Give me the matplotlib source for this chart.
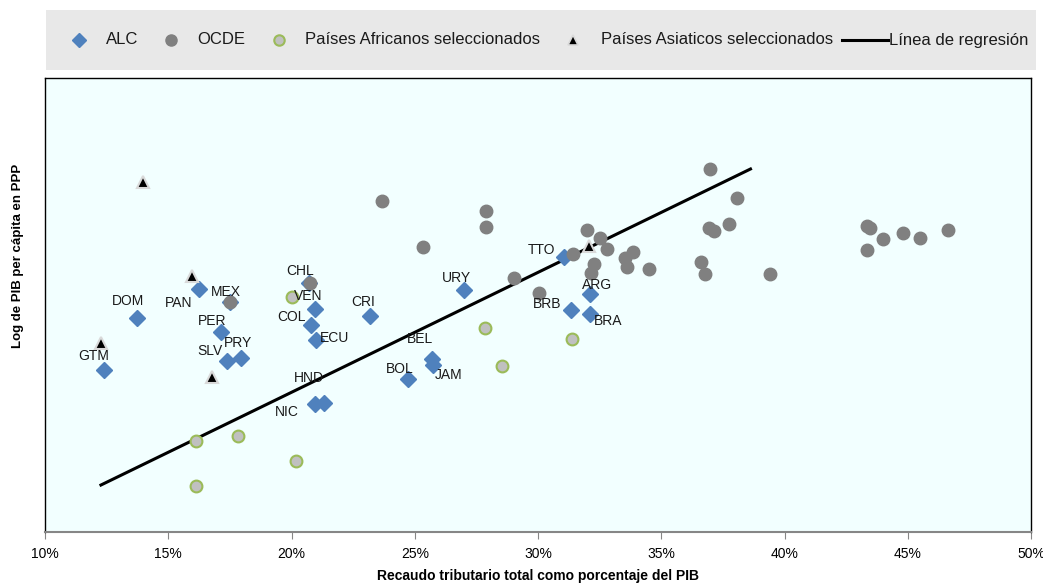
import matplotlib
matplotlib.use("Agg")
import matplotlib.pyplot as plt
from matplotlib.lines import Line2D
from matplotlib.patches import Rectangle
from matplotlib.ticker import FuncFormatter

plt.rcParams['font.family'] = ['Liberation Sans', 'DejaVu Sans']

# ALC (América Latina y el Caribe)
alc_codes = ["GTM", "DOM", "PAN", "MEX", "PER", "SLV", "PRY", "CHL", "VEN", "COL", "ECU",
             "CRI", "URY", "BEL", "JAM", "BOL", "HND", "NIC", "TTO", "ARG", "BRB", "BRA"]
alc_tax = [12.39, 13.73, 16.24, 17.50, 17.13, 17.38, 17.94, 20.70, 20.94, 20.78, 20.98,
           23.17, 26.98, 25.68, 25.76, 24.71, 21.31, 20.94, 31.07, 32.09, 31.32, 32.09]
alc_gdp = [8.05, 8.57, 8.87, 8.74, 8.43, 8.14, 8.17, 8.93, 8.66, 8.50, 8.35,
           8.59, 8.86, 8.16, 8.10, 7.96, 7.71, 7.70, 9.19, 8.82, 8.65, 8.61]

# OCDE
ocde_tax = [17.50, 20.74, 23.66, 25.32, 27.91, 27.91, 29.01, 30.06, 31.97, 32.53, 32.78,
            31.40, 32.29, 32.13, 33.51, 33.87, 33.63, 34.52, 36.99, 38.09, 36.95, 37.15,
            37.76, 36.63, 36.79, 39.42, 43.35, 43.48, 44.00, 44.81, 45.50, 46.64, 43.35]
ocde_gdp = [8.74, 8.93, 9.76, 9.29, 9.66, 9.49, 8.98, 8.83, 9.46, 9.38, 9.27,
            9.22, 9.12, 9.03, 9.18, 9.24, 9.09, 9.07, 10.08, 9.79, 9.48, 9.45,
            9.52, 9.14, 9.02, 9.02, 9.50, 9.48, 9.37, 9.43, 9.38, 9.46, 9.26]

# Países Africanos seleccionados
afr_tax = [20.01, 27.87, 28.52, 31.36, 16.12, 17.82, 20.17, 16.12]
afr_gdp = [8.79, 8.47, 8.09, 8.36, 7.33, 7.38, 7.13, 6.88]

# Países Asiaticos seleccionados
asia_tax = [13.97, 15.96, 12.27, 16.77, 32.05]
asia_gdp = [9.95, 9.00, 8.32, 7.98, 9.30]

# Línea de regresión (extremos)
reg_tax = [12.27, 38.62]
reg_gdp = [6.885, 10.08]

legend_labels = ["ALC", "OCDE", "Países Africanos seleccionados",
                 "Países Asiaticos seleccionados", "Línea de regresión"]

# label offsets in pixels (dx, dy)
label_offsets = {
    "GTM": (-10, 14), "DOM": (-9, 17), "PAN": (-20, -14), "MEX": (-4, 10),
    "PER": (-9, 11), "SLV": (-17, 10), "PRY": (-3, 15), "CHL": (-9, 12),
    "VEN": (-6, 13), "COL": (-19, 8), "ECU": (19, 2), "CRI": (-6, 14),
    "URY": (-7, 12), "BEL": (-12, 20), "JAM": (15, -10), "BOL": (-8, 10),
    "HND": (-15, 25), "NIC": (-28, -8), "TTO": (-23, 7), "ARG": (8, 9),
    "BRB": (-23, 6), "BRA": (19, -7),
}

blue = "#4F81BD"
gray = "#808080"
W, H = 1043, 585

fig = plt.figure(figsize=(10.43, 5.85), dpi=100)
ax = fig.add_axes([45 / W, 1 - 532 / H, 986 / W, 454 / H])
ax.set_facecolor("#F2FFFF")

ax.plot(reg_tax, reg_gdp, color="black", lw=2.2, zorder=1)
ax.plot(alc_tax, alc_gdp, "D", ms=8.5, color=blue, mec=blue, ls="none", zorder=2)
ax.plot(ocde_tax, ocde_gdp, "o", ms=9, color=gray, mec=gray, ls="none", zorder=3)
ax.plot(afr_tax, afr_gdp, "o", ms=8.5, color="#C0C0C0", mec="#9BBB59", mew=1.5, ls="none", zorder=3)
ax.plot(asia_tax, asia_gdp, "^", ms=9, color="black", mec="#D9D9D9", mew=1.5, ls="none", zorder=4)

for code, x, y in zip(alc_codes, alc_tax, alc_gdp):
    dx, dy = label_offsets[code]
    ax.annotate(code, (x, y), xytext=(dx, dy), textcoords="offset pixels",
                ha="center", va="center", fontsize=10, color="#1A1A1A", zorder=5)

ax.set_xlim(10, 50)
ax.set_ylim(6.41, 11.0)
ax.set_xticks(range(10, 51, 5))
ax.xaxis.set_major_formatter(FuncFormatter(lambda v, p: f"{v:.0f}%"))
ax.set_yticks([])
ax.tick_params(axis="x", direction="out", length=5, color="#868686", labelsize=10, pad=6)
for s in ["left", "top", "right"]:
    ax.spines[s].set_color("black")
    ax.spines[s].set_linewidth(1.0)
ax.spines["bottom"].set_color("#868686")
ax.spines["bottom"].set_linewidth(1.5)

ax.set_xlabel("Recaudo tributario total como porcentaje del PIB", fontsize=10,
              fontweight="bold", va="center")
ax.xaxis.set_label_coords(0.4995, -(576 - 532) / 454)
ax.set_ylabel("Log de PIB per cápita en PPP", fontsize=9.5, fontweight="bold", va="center")
ax.yaxis.set_label_coords(-(45 - 18) / 986, (532 - 256) / 454)

# legend: grey band with entries placed along it
fig.patches.append(Rectangle((46 / W, 1 - 70 / H), 990 / W, 60 / H,
                             transform=fig.transFigure, facecolor="#E8E8E8",
                             edgecolor="none", zorder=0))
ly = 1 - 40 / H
marker_x = [79, 171, 279, 573]
text_x = [106, 197, 305, 601, 889]
marker_styles = [
    dict(marker="D", ms=7, color=blue),
    dict(marker="o", ms=8, color=gray),
    dict(marker="o", ms=7.5, color="#C0C0C0", mec="#9BBB59", mew=1.5),
    dict(marker="^", ms=7, color="black", mec="#D9D9D9", mew=1.2),
]
for mx, st in zip(marker_x, marker_styles):
    fig.add_artist(Line2D([mx / W], [ly], ls="none", transform=fig.transFigure, **st))
fig.add_artist(Line2D([842 / W, 888 / W], [ly, ly], color="black", lw=2.2,
                      transform=fig.transFigure))
for tx, lab in zip(text_x, legend_labels):
    fig.text(tx / W, ly, lab, fontsize=12, ha="left", va="center", color="#1A1A1A")

fig.savefig("out.png", dpi=100)
